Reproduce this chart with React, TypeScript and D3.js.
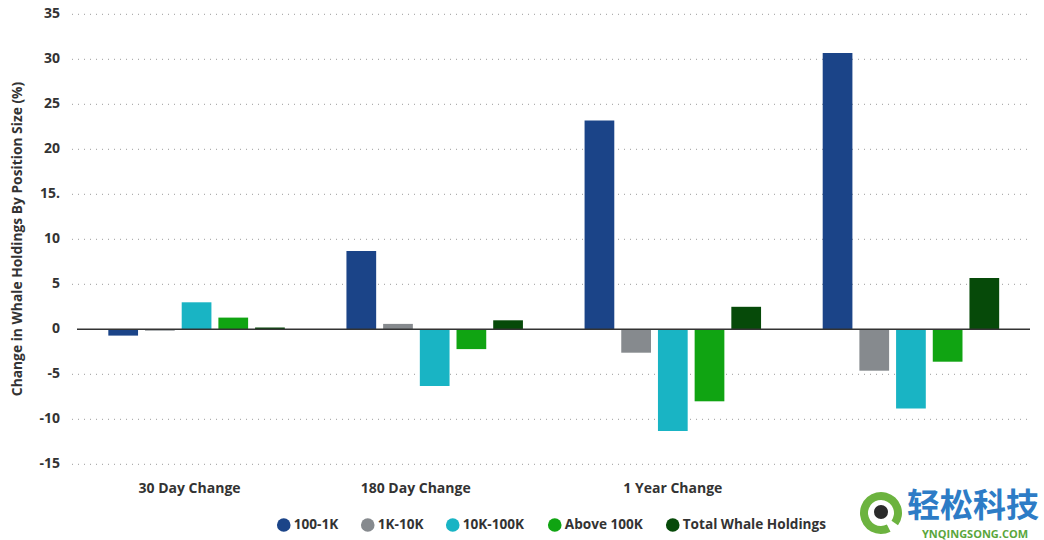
import * as d3 from 'd3';

// values
const categories = ['30 Day Change', '180 Day Change', '1 Year Change', ''];
const seriesNames = ['100-1K', '1K-10K', '10K-100K', 'Above 100K', 'Total Whale Holdings'];
const values100To1K = [-0.7, 8.7, 23.2, 30.7];
const values1KTo10K = [-0.15, 0.6, -2.6, -4.6];
const values10KTo100K = [3.0, -6.3, -11.3, -8.8];
const valuesAbove100K = [1.3, -2.2, -8.0, -3.6];
const valuesTotal = [0.2, 1.0, 2.5, 5.7];
const yTicks = [-15, -10, -5, 0, 5, 10, 15, 20, 25, 30, 35];
const yTickLabels = ['-15', '-10', '-5', '0', '5', '10', '15.', '20', '25', '30', '35'];

const seriesValues = [values100To1K, values1KTo10K, values10KTo100K, valuesAbove100K, valuesTotal];
const colors = ['#1b4488', '#868a8e', '#19b4c4', '#10a412', '#064a09'];
// the category labels in the original sit a little off their group centres
const labelShift = [-7, -19, 0, 0];

const W = 1044;
const H = 540;
const font = '"Open Sans", "Noto Sans", sans-serif';
const textColor = '#333';

export default function App() {
	const x0 = d3.scaleBand<string>().domain(categories).range([77.5, 1030]).padding(0);
	const x1 = d3.scaleBand<string>().domain(seriesNames).range([0, x0.bandwidth()]).paddingInner(0.19).paddingOuter(0.84);
	const y = d3.scaleLinear().domain([-15, 35]).range([464.3, 14.3]);

	// legend layout: widths estimated per label, centred under the plot
	const legendWidths = [60, 61, 78, 94, 165];
	const gap = 24;
	const legendTotal = d3.sum(legendWidths) + gap * (legendWidths.length - 1);
	const legendStart = (77.5 + 1030) / 2 - legendTotal / 2;
	const legendX = legendWidths.map((_, i) => legendStart + d3.sum(legendWidths.slice(0, i)) + gap * i);

	const ring = d3.arc()({ innerRadius: 13, outerRadius: 21, startAngle: 0.85 * Math.PI, endAngle: 2.7 * Math.PI }) as string;

	return (
		<svg width={W} height={H} style={{ position: 'absolute', left: 0, top: 0, background: '#fff' }} fontFamily={font}>
			{/* gridlines */}
			{yTicks
				.filter((t) => t !== 0)
				.map((t) => (
					<line key={t} x1={72} x2={1030} y1={y(t)} y2={y(t)} stroke="#9a9a9a" strokeWidth={1} strokeDasharray="1,5" />
				))}

			{/* y tick labels */}
			{yTicks.map((t, i) => (
				<text key={t} x={60} y={y(t)} textAnchor="end" dominantBaseline="middle" fontSize={14} fontWeight={700} fill={textColor}>
					{yTickLabels[i]}
				</text>
			))}

			{/* y axis title */}
			<text transform={`translate(22,239) rotate(-90)`} textAnchor="middle" fontSize={13.8} fontWeight={700} fill={textColor}>
				Change in Whale Holdings By Position Size (%)
			</text>

			{/* bars */}
			{categories.map((c, ci) => (
				<g key={ci} transform={`translate(${x0(c)},0)`}>
					{seriesNames.map((s, si) => {
						const v = seriesValues[si][ci];
						return <rect key={s} x={x1(s)} width={x1.bandwidth()} y={y(Math.max(0, v))} height={Math.abs(y(v) - y(0))} fill={colors[si]} />;
					})}
				</g>
			))}

			{/* zero line */}
			<line x1={77} x2={1030} y1={y(0)} y2={y(0)} stroke="#333" strokeWidth={1.5} />

			{/* category labels */}
			{categories.map((c, ci) => (
				<text key={ci} x={(x0(c) as number) + x0.bandwidth() / 2 + labelShift[ci]} y={493} textAnchor="middle" fontSize={14} fontWeight={700} fill={textColor}>
					{c}
				</text>
			))}

			{/* legend */}
			{seriesNames.map((s, i) => (
				<g key={s} transform={`translate(${legendX[i]},525)`}>
					<circle cx={7} cy={0} r={6.8} fill={colors[i]} />
					<text x={17} y={0} dominantBaseline="middle" fontSize={13.6} fontWeight={700} fill={textColor}>
						{s}
					</text>
				</g>
			))}

			{/* watermark */}
			<g transform="translate(881,513)">
				<path d={ring} fill="#6cb33f" />
				<circle cx={0} cy={-1} r={7} fill="#2b2b2b" />
			</g>
			<text x={907} y={517} fontSize={33} fontWeight={700} fill="#2d7cc6" fontFamily='"Noto Sans CJK SC", sans-serif'>
				轻松科技
			</text>
			<text x={922} y={538} fontSize={11} fontWeight={700} fill="#5aa63c" fontFamily={font}>
				YNQINGSONG.COM
			</text>
		</svg>
	);
}
